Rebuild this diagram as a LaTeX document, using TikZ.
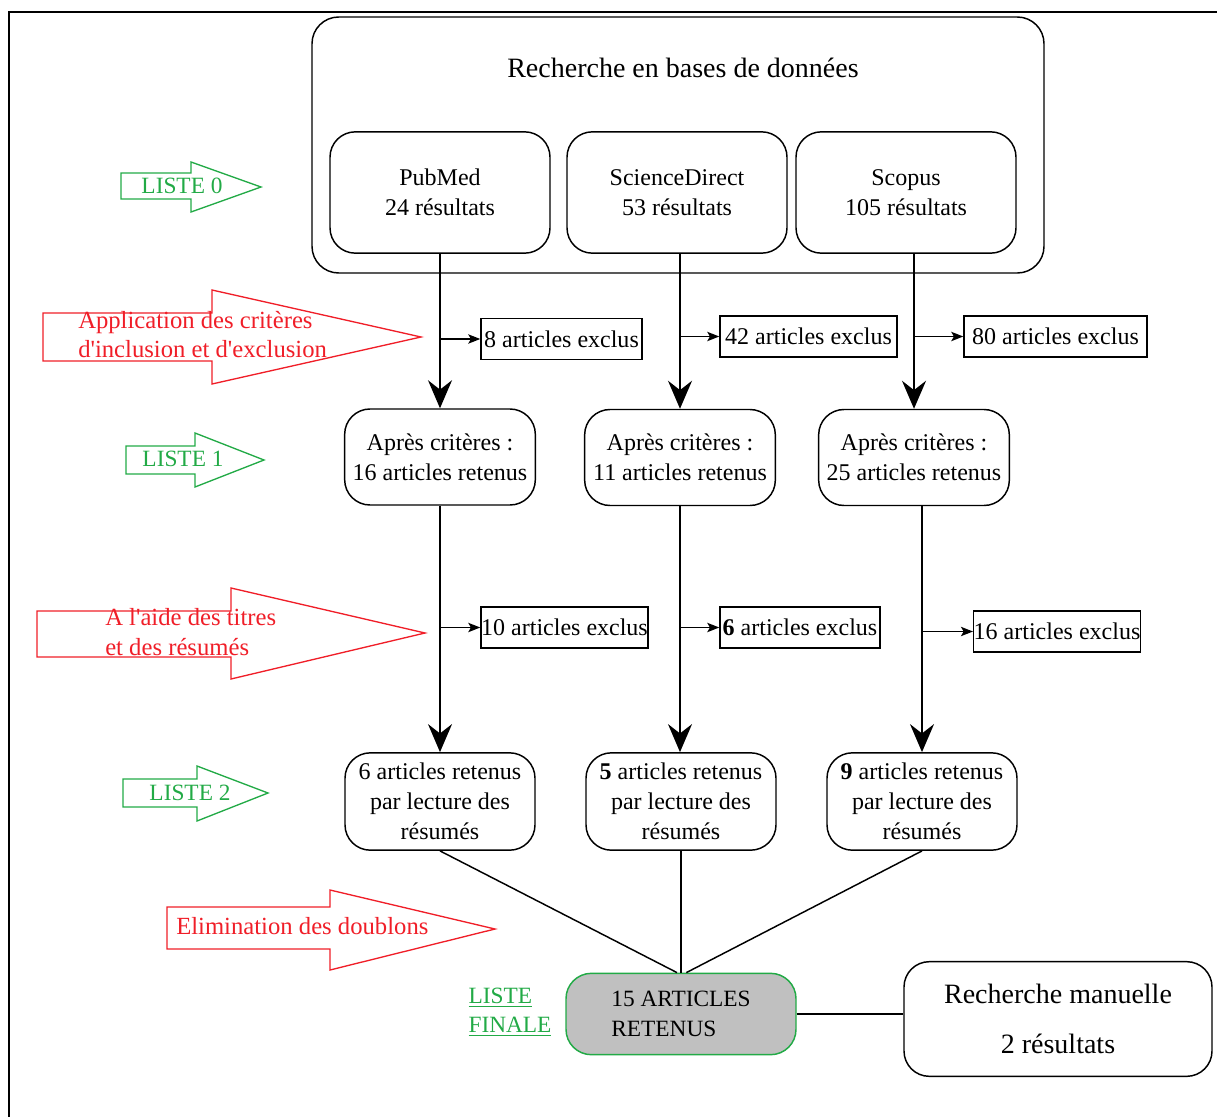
\documentclass[tikz,border=0pt]{standalone}
\usepackage{fontspec}
\setmainfont{Liberation Serif}
\usetikzlibrary{arrows.meta}
\definecolor{lred}{RGB}{240,30,40}
\definecolor{lgreen}{RGB}{34,170,70}
\definecolor{fgray}{RGB}{192,192,192}
\begin{document}
\begin{tikzpicture}[x=0.75pt,y=-0.75pt,
  txt/.style={font=\fontsize{18}{22.5}\selectfont, align=center, inner sep=0pt},
  rbox/.style={draw, line width=1.1pt, rounded corners=19pt, align=center, inner sep=0pt, font=\fontsize{18}{22.5}\selectfont},
  exbox/.style={draw, line width=1.1pt, minimum height=31pt, inner sep=0pt, font=\fontsize{18}{22}\selectfont},
  bigarrow/.style={line width=1.1pt, -{Stealth[length=21pt,width=18pt,inset=7pt]}},
  smallarrow/.style={line width=1.1pt, -{Stealth[length=9pt,width=7pt,inset=2pt]}},
  plainline/.style={line width=1.1pt},
  blockarrow/.style={line width=1pt, line join=miter},
  redtxt/.style={font=\fontsize{18.5}{22}\selectfont, text=lred, align=left, inner sep=0pt, anchor=west},
  greentxt/.style={font=\fontsize{17.5}{21}\selectfont, text=lgreen, inner sep=0pt}
]
\useasboundingbox (0,0) rectangle (1217,1117);
% frame
\draw[line width=1pt] (9,1117) -- (9,12) -- (1217,12);

% database group
\node[rbox, minimum width=549pt, minimum height=192pt, rounded corners=20pt] (db) at (678,145) {};
\node[txt, font=\fontsize{21}{25}\selectfont] (dbtitle) at (683,68) {Recherche en bases de données};
\node[rbox, minimum width=165pt, minimum height=91pt] (pubmed) at (440,192.5) {PubMed\\24 résultats};
\node[rbox, minimum width=165pt, minimum height=91pt] (sd) at (677,192.5) {ScienceDirect\\53 résultats};
\node[rbox, minimum width=165pt, minimum height=91pt] (scopus) at (906,192.5) {Scopus\\105 résultats};

% row 2
\node[rbox, minimum width=143pt, minimum height=72pt] (ac1) at (440,457) {Après critères :\\16 articles retenus};
\node[rbox, minimum width=143pt, minimum height=72pt] (ac2) at (680,457.5) {Après critères :\\11 articles retenus};
\node[rbox, minimum width=143pt, minimum height=72pt] (ac3) at (914,457.5) {Après critères :\\25 articles retenus};

% row 3
\node[rbox, minimum width=142.5pt, minimum height=73pt] (rl1) at (440,801.5) {6 articles retenus\\par lecture des\\résumés};
\node[rbox, minimum width=142.5pt, minimum height=73pt] (rl2) at (681,801.5) {\textbf{5} articles retenus\\par lecture des\\résumés};
\node[rbox, minimum width=142.5pt, minimum height=73pt] (rl3) at (922,801.5) {\textbf{9} articles retenus\\par lecture des\\résumés};

% exclusion boxes
\node[exbox, minimum width=120.75pt] (ex1a) at (561.5,339) {8 articles exclus};
\node[exbox, minimum width=132.75pt] (ex1b) at (808.5,336.5) {42 articles exclus};
\node[exbox, minimum width=137.25pt] (ex1c) at (1055.5,336.5) {80 articles exclus};
\node[exbox, minimum width=125.25pt] (ex2a) at (564.5,627.5) {10 articles exclus};
\node[exbox, minimum width=120pt] (ex2b) at (800,627.5) {\textbf{6} articles exclus};
\node[exbox, minimum width=124.5pt] (ex2c) at (1057,631.5) {16 articles exclus};

% final
\node[rbox, draw=lgreen, fill=fgray, minimum width=172.5pt, minimum height=61pt, align=left, font=\fontsize{17.5}{22.5}\selectfont] (final) at (681,1014) {15 ARTICLES\\RETENUS};
\node[rbox, minimum width=231pt, minimum height=86pt, font=\fontsize{21}{38}\selectfont] (manual) at (1058,1019) {Recherche manuelle\\2 résultats};
\node[greentxt, align=left, font=\fontsize{17.5}{21.75}\selectfont] (lfin) at (510,1012) {\underline{LISTE}\\\underline{FINALE}};

% vertical arrows
\draw[bigarrow] (pubmed.south) -- (ac1.north);
\draw[bigarrow] (ac2.north |- sd.south) -- (ac2.north);
\draw[bigarrow] (ac3.north |- scopus.south) -- (ac3.north);
\draw[bigarrow] (ac1.south) -- (rl1.north);
\draw[bigarrow] (ac2.south) -- (ac2.south |- rl2.north);
\draw[bigarrow] (rl3.north |- ac3.south) -- (rl3.north);

% small arrows
\draw[smallarrow] (ex1a.west -| pubmed.south) -- (ex1a.west);
\draw[smallarrow] (ex1b.west -| ac2.north) -- (ex1b.west);
\draw[smallarrow] (ex1c.west -| ac3.north) -- (ex1c.west);
\draw[smallarrow] (ex2a.west -| ac1.south) -- (ex2a.west);
\draw[smallarrow] (ex2b.west -| ac2.south) -- (ex2b.west);
\draw[smallarrow] (ex2c.west -| rl3.north) -- (ex2c.west);

% to final
\draw[plainline] (rl1.south) -- ([xshift=-3pt]final.north);
\draw[plainline] (final.north |- rl2.south) -- (final.north);
\draw[plainline] (rl3.south) -- ([xshift=4pt]final.north);
\draw[plainline] (final.east) -- (final.east -| manual.west);

% block arrows (green)
\draw[blockarrow, draw=lgreen] (121,173) -- (191,173) -- (191,162) -- (261,187) -- (191,212) -- (191,199) -- (121,199) -- cycle;
\node[greentxt] (l0) at (182,186) {LISTE 0};
\draw[blockarrow, draw=lgreen] (126,446) -- (195,446) -- (195,433) -- (264,460) -- (195,487) -- (195,474) -- (126,474) -- cycle;
\node[greentxt] (l1) at (183,459) {LISTE 1};
\draw[blockarrow, draw=lgreen] (123,779) -- (197,779) -- (197,766) -- (268,793) -- (197,821) -- (197,807) -- (123,807) -- cycle;
\node[greentxt] (l2) at (190,793) {LISTE 2};

% block arrows (red)
\draw[blockarrow, draw=lred] (43,313) -- (212,313) -- (212,290) -- (421,337) -- (212,384) -- (212,361) -- (43,361) -- cycle;
\node[redtxt] (r1) at (78,334.5) {Application des critères\\d\textquotesingle inclusion et d\textquotesingle exclusion};
\draw[blockarrow, draw=lred] (37,611) -- (231,611) -- (231,588) -- (425,633) -- (231,679) -- (231,657) -- (37,657) -- cycle;
\node[redtxt] (r2) at (105,632) {A l\textquotesingle aide des titres\\et des résumés};
\draw[blockarrow, draw=lred] (167,907) -- (330,907) -- (330,890) -- (495,929) -- (330,970) -- (330,949) -- (167,949) -- cycle;
\node[redtxt] (r3) at (176,926) {Elimination des doublons};
\end{tikzpicture}
\end{document}
